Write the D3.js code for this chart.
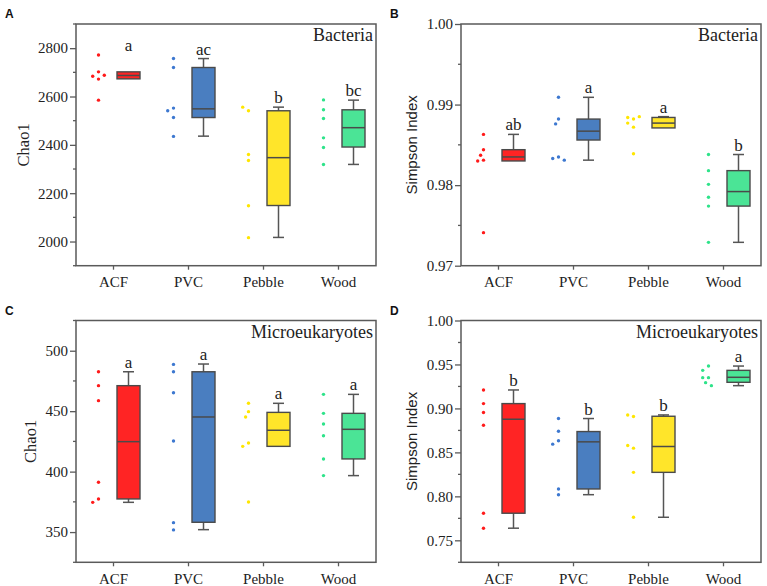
<!DOCTYPE html>
<html><head><meta charset="utf-8">
<script src="https://cdn.jsdelivr.net/npm/d3@7"></script>
<style>body{margin:0;background:#fff}svg{display:block}</style>
</head><body>
<svg id="chart" width="767" height="586"></svg>
<script>
// ---------- data ----------
const categories = ["ACF", "PVC", "Pebble", "Wood"];
const boxColors = ["#FF2424", "#4A7EC0", "#FFE52A", "#4BE496"];
const dotColors = ["#FF1A1A", "#3D78D0", "#FFE600", "#2EE38A"];

// Panel A: Bacteria, Chao1
const aDots = [
  [2702, 2684, 2772, 2672, 2688, 2585],
  [2552, 2541, 2513, 2720, 2757, 2435],
  [2541, 2556, 2360, 2335, 2148, 2016],
  [2586, 2545, 2509, 2429, 2389, 2319]
];
// [q1, median, q3, whiskerLow, whiskerHigh]
const aBox = [
  [2673, 2687, 2702, 2673, 2702],
  [2513, 2549, 2720, 2436, 2757],
  [2149, 2347, 2541, 2017, 2556],
  [2391, 2471, 2545, 2319, 2585]
];
const aLetters = ["a", "ac", "b", "bc"];
const aTicks = [2000, 2200, 2400, 2600, 2800];

// Panel B: Bacteria, Simpson
const bDots = [
  [0.9831, 0.9863, 0.9844, 0.9830, 0.9837, 0.9741],
  [0.9909, 0.9882, 0.9876, 0.9835, 0.9833, 0.9831],
  [0.9882, 0.9884, 0.9885, 0.9872, 0.9877, 0.9839],
  [0.9838, 0.9818, 0.9801, 0.9785, 0.9774, 0.9729]
];
const bBox = [
  [0.9830, 0.9835, 0.9844, 0.9830, 0.9863],
  [0.9856, 0.9867, 0.9882, 0.9831, 0.9909],
  [0.9871, 0.9877, 0.9884, 0.9871, 0.9885],
  [0.9774, 0.9792, 0.9818, 0.9729, 0.9838]
];
const bLetters = ["ab", "a", "a", "b"];
const bTicks = [0.97, 0.98, 0.99, 1.00];

// Panel C: Microeukaryotes, Chao1
const cDots = [
  [482.6, 471.1, 458.7, 391.2, 377.4, 374.6],
  [482.6, 488.7, 465.3, 425.3, 357.8, 351.8],
  [456.5, 449.6, 445.2, 423.7, 420.9, 374.9],
  [463.9, 448.2, 439.4, 429.7, 410.5, 396.7]
];
const cBox = [
  [377.4, 424.8, 471.1, 374.6, 482.6],
  [358.1, 445.2, 482.6, 352.0, 489.0],
  [420.9, 434.2, 449.0, 420.9, 456.5],
  [410.5, 435.0, 448.2, 396.7, 463.9]
];
const cLetters = ["a", "a", "a", "a"];
const cTicks = [350, 400, 450, 500];

// Panel D: Microeukaryotes, Simpson
const dDots = [
  [0.9210, 0.9055, 0.8953, 0.8809, 0.7808, 0.7638],
  [0.8885, 0.8741, 0.8632, 0.8594, 0.8084, 0.8019],
  [0.8908, 0.8926, 0.8548, 0.8579, 0.8273, 0.7762],
  [0.9482, 0.9433, 0.9350, 0.9350, 0.9293, 0.9259]
];
const dBox = [
  [0.7808, 0.8877, 0.9055, 0.7638, 0.9210],
  [0.8084, 0.8620, 0.8737, 0.8019, 0.8885],
  [0.8273, 0.8567, 0.8911, 0.7762, 0.8926],
  [0.9297, 0.9354, 0.9433, 0.9259, 0.9482]
];
const dLetters = ["b", "b", "b", "a"];
const dTicks = [0.75, 0.80, 0.85, 0.90, 0.95, 1.00];

// ---------- layout ----------
const panels = [
  {tag: "A", title: "Bacteria", ytitle: "Chao1", ysans: false, left: 76, top: 24, bottom: 265.7,
   domain: [1900, 2900], ticks: aTicks, minor: 100, fmt: d3.format("d"), dots: aDots, box: aBox, letters: aLetters, ytx: 24},
  {tag: "B", title: "Bacteria", ytitle: "Simpson Index", ysans: true, left: 461, top: 24, bottom: 265.7,
   domain: [0.97, 1.00], ticks: bTicks, minor: 0.005, fmt: d3.format(".2f"), dots: bDots, box: bBox, letters: bLetters, ytx: 412},
  {tag: "C", title: "Microeukaryotes", ytitle: "Chao1", ysans: false, left: 76, top: 320.5, bottom: 562.3,
   domain: [325, 525], ticks: cTicks, minor: 25, fmt: d3.format("d"), dots: cDots, box: cBox, letters: cLetters, ytx: 31},
  {tag: "D", title: "Microeukaryotes", ytitle: "Simpson Index", ysans: true, left: 461, top: 320.5, bottom: 562.3,
   domain: [0.725, 1.00], ticks: dTicks, minor: 0.025, fmt: d3.format(".2f"), dots: dDots, box: dBox, letters: dLetters, ytx: 412}
];
const W = 300;
const axisColor = "#5a5a5a";
const serif = "'Liberation Serif', 'Times New Roman', serif";
const sans = "'Liberation Sans', Arial, sans-serif";

const svg = d3.select("#chart");

function swarm(vals, y) {
  const placed = [];
  const step = 2.9, dist = 5.6;
  vals.forEach((v) => {
    const py = y(v);
    for (const k of [0, -1, 1, -2, 2, -3, 3, -4, 4, -5, 5]) {
      const ox = k * step;
      if (placed.every(p => (p.x - ox) ** 2 + (p.y - py) ** 2 >= dist * dist)) {
        placed.push({x: ox, y: py, v});
        break;
      }
    }
  });
  return placed;
}

panels.forEach(p => {
  const g = svg.append("g");
  const x = d3.scaleBand().domain(categories).range([p.left, p.left + W]).padding(0);
  const y = d3.scaleLinear().domain(p.domain).range([p.bottom, p.top]);
  const cx = c => x(c) + x.bandwidth() / 2;

  // minor ticks
  const minorVals = d3.range(p.domain[0], p.domain[1] + p.minor / 2, p.minor)
    .filter(v => !p.ticks.some(t => Math.abs(t - v) < p.minor / 10));
  g.append("g").selectAll("line").data(minorVals).join("line")
    .attr("x1", p.left - 3).attr("x2", p.left)
    .attr("y1", d => y(d)).attr("y2", d => y(d))
    .attr("stroke", axisColor).attr("stroke-width", 1.3);

  // y axis
  const yAxis = d3.axisLeft(y).tickValues(p.ticks).tickFormat(p.fmt).tickSize(6).tickPadding(2);
  const ya = g.append("g").attr("transform", `translate(${p.left},0)`).call(yAxis);
  ya.attr("font-family", null).attr("font-size", null)
    .style("font-family", serif).style("font-size", "15px");
  ya.select(".domain").remove();
  ya.selectAll(".tick line").attr("stroke", axisColor).attr("stroke-width", 1.3);
  ya.selectAll(".tick text").style("font-family", serif).style("font-size", "15px").attr("fill", "#222");

  // x axis
  const xAxis = d3.axisBottom(x).tickSize(4).tickPadding(7);
  const xa = g.append("g").attr("transform", `translate(0,${p.bottom})`).call(xAxis);
  xa.attr("font-family", null).attr("font-size", null)
    .style("font-family", serif).style("font-size", "15px");
  xa.select(".domain").remove();
  xa.selectAll(".tick line").attr("stroke", axisColor).attr("stroke-width", 1.3);
  xa.selectAll(".tick text").style("font-family", serif).style("font-size", "15px").attr("fill", "#222");

  // frame
  g.append("rect").attr("x", p.left).attr("y", p.top).attr("width", W).attr("height", p.bottom - p.top)
    .attr("fill", "none").attr("stroke", axisColor).attr("stroke-width", 1.5);

  // dots & boxes
  categories.forEach((c, i) => {
    const pts = swarm(p.dots[i], y);
    g.append("g").selectAll("circle").data(pts).join("circle")
      .attr("cx", d => cx(c) - 15 + d.x).attr("cy", d => d.y).attr("r", 1.7)
      .attr("fill", dotColors[i]);

    const [q1, med, q3, lo, hi] = p.box[i];
    const bx = cx(c) + 15;
    const bw = 23, cw = 11;
    if (hi > q3) {
      g.append("line").attr("x1", bx).attr("x2", bx).attr("y1", y(q3)).attr("y2", y(hi))
        .attr("stroke", "#555").attr("stroke-width", 1.5);
      g.append("line").attr("x1", bx - cw / 2).attr("x2", bx + cw / 2).attr("y1", y(hi)).attr("y2", y(hi))
        .attr("stroke", "#555").attr("stroke-width", 1.5);
    }
    if (lo < q1) {
      g.append("line").attr("x1", bx).attr("x2", bx).attr("y1", y(q1)).attr("y2", y(lo))
        .attr("stroke", "#555").attr("stroke-width", 1.5);
      g.append("line").attr("x1", bx - cw / 2).attr("x2", bx + cw / 2).attr("y1", y(lo)).attr("y2", y(lo))
        .attr("stroke", "#555").attr("stroke-width", 1.5);
    }
    g.append("rect").attr("x", bx - bw / 2).attr("y", y(q3)).attr("width", bw)
      .attr("height", Math.max(1, y(q1) - y(q3)))
      .attr("fill", boxColors[i]).attr("stroke", "#4a4a4a").attr("stroke-width", 1.4);
    g.append("line").attr("x1", bx - bw / 2).attr("x2", bx + bw / 2).attr("y1", y(med)).attr("y2", y(med))
      .attr("stroke", "#4a4a4a").attr("stroke-width", 1.5);

    const top = Math.max(hi, d3.max(p.dots[i]));
    g.append("text").attr("x", bx).attr("y", y(top) - 4).attr("text-anchor", "middle")
      .style("font-family", serif).style("font-size", "17px").attr("fill", "#222").text(p.letters[i]);
  });

  // panel title
  g.append("text").attr("x", p.left + W - 3).attr("y", p.top + 17).attr("text-anchor", "end")
    .style("font-family", serif).style("font-size", "18px").attr("fill", "#222").text(p.title);

  // y title
  const cyT = (p.top + p.bottom) / 2;
  g.append("text").attr("transform", `translate(${p.ytx + 5},${cyT}) rotate(-90)`)
    .attr("text-anchor", "middle")
    .style("font-family", p.ysans ? sans : serif).style("font-size", p.ysans ? "15px" : "16.5px")
    .attr("fill", "#222").text(p.ytitle);

  // panel tag
  g.append("text").attr("x", p.left - 71).attr("y", p.top - 6)
    .style("font-family", sans).style("font-weight", "bold").style("font-size", "12px").attr("fill", "#111")
    .text(p.tag);
});
</script>
</body></html>
